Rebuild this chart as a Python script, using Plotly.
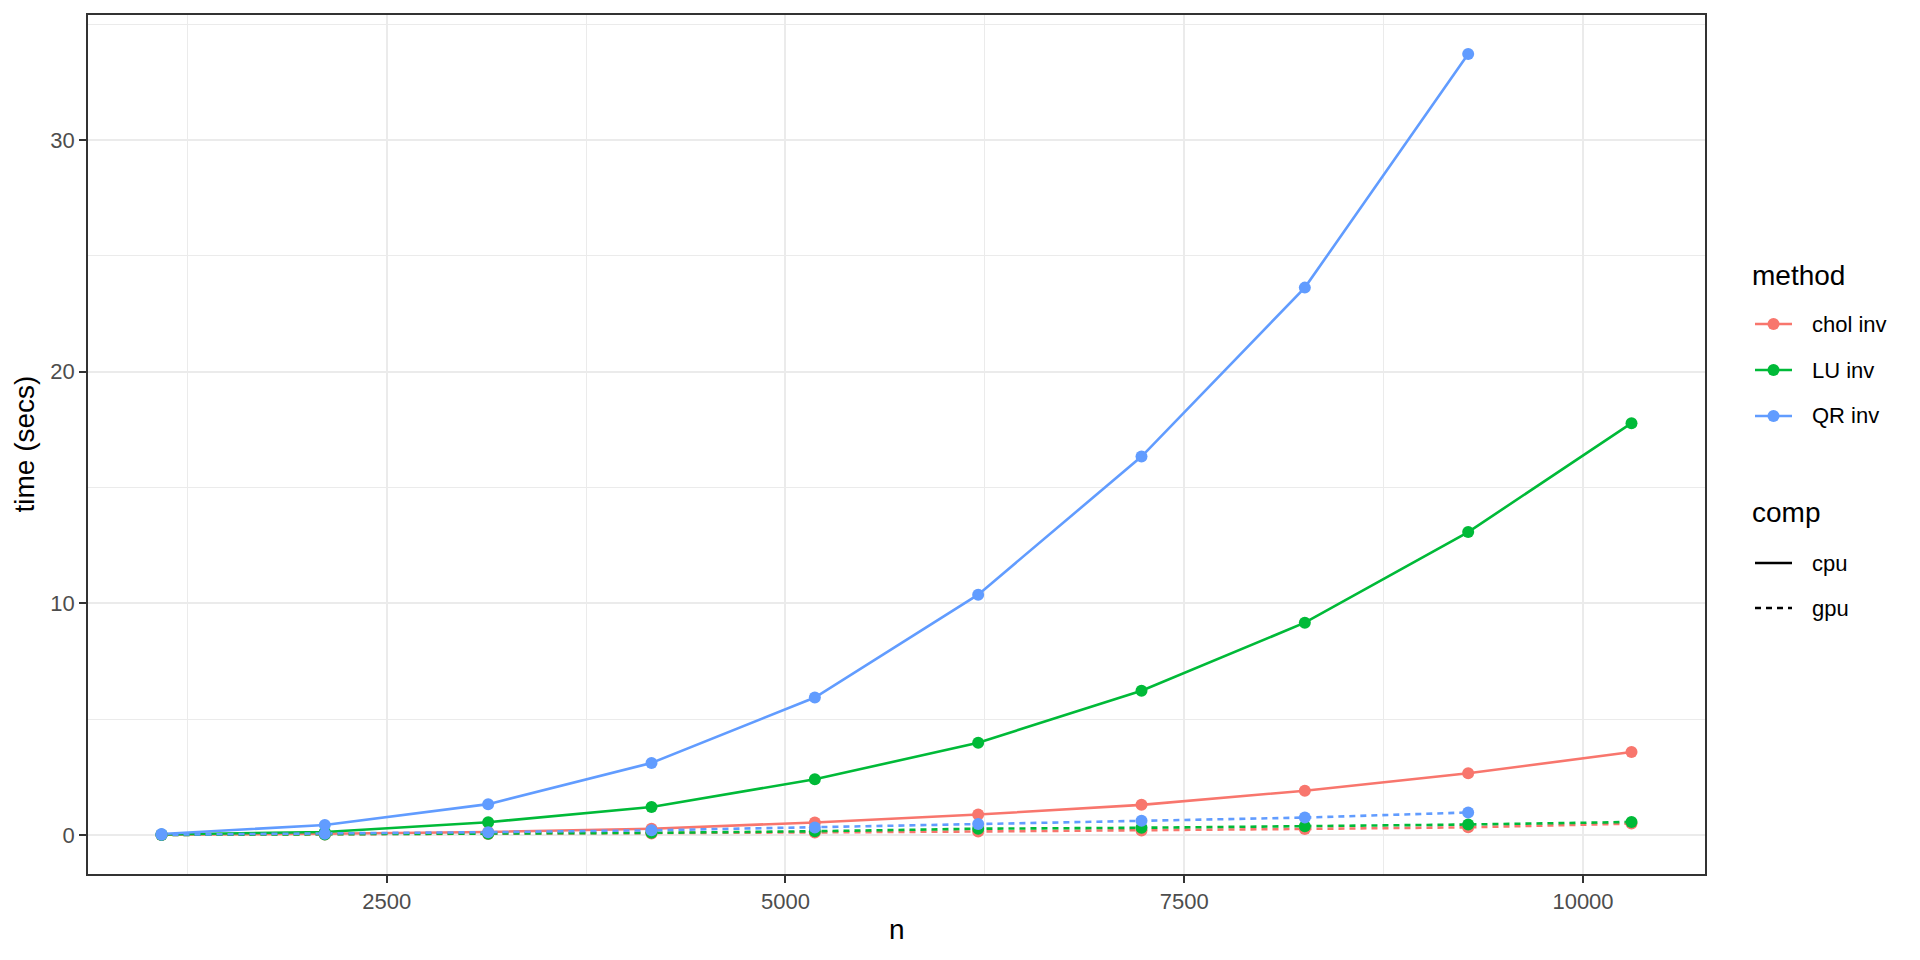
import plotly.graph_objects as go

# ---- data ----
n_vals = [1088, 2112, 3136, 4160, 5184, 6208, 7232, 8256, 9280, 10304]
chol_cpu = [0.02, 0.06, 0.14, 0.28, 0.55, 0.89, 1.31, 1.92, 2.67, 3.59]
lu_cpu = [0.03, 0.14, 0.56, 1.22, 2.41, 3.99, 6.23, 9.17, 13.08, 17.78]
qr_cpu = [0.05, 0.44, 1.34, 3.12, 5.94, 10.38, 16.34, 23.63, 33.71]
chol_gpu = [0.01, 0.03, 0.05, 0.07, 0.12, 0.16, 0.20, 0.27, 0.34, 0.50]
lu_gpu = [0.01, 0.03, 0.06, 0.10, 0.17, 0.28, 0.32, 0.39, 0.46, 0.57]
qr_gpu = [0.02, 0.06, 0.13, 0.21, 0.33, 0.48, 0.62, 0.76, 0.98]

methods = ["chol inv", "LU inv", "QR inv"]
method_colors = ["#F8766D", "#00BA38", "#619CFF"]
comps = ["cpu", "gpu"]
x_ticks = [2500, 5000, 7500, 10000]
x_minor = [1250, 3750, 6250, 8750]
y_ticks = [0, 10, 20, 30]
y_minor = [5, 15, 25, 35]

series = [
    ("chol inv", "cpu", chol_cpu),
    ("chol inv", "gpu", chol_gpu),
    ("LU inv", "cpu", lu_cpu),
    ("LU inv", "gpu", lu_gpu),
    ("QR inv", "cpu", qr_cpu),
    ("QR inv", "gpu", qr_gpu),
]

# page body has an 8px default margin; build figure in page coordinates minus that
OFF = 8
W, H = 1920 - 2 * OFF, 960 - 2 * OFF
FONT = "Liberation Sans, Arial, Helvetica, sans-serif"
dash_style = {"cpu": "solid", "gpu": "6px,5px"}
LW = 2.6
MS = 12

def PX(x):
    return x - OFF

fig = go.Figure()

# lines first
for m, c, vals in series:
    col = method_colors[methods.index(m)]
    fig.add_trace(go.Scatter(
        x=n_vals[:len(vals)], y=vals, mode="lines",
        line=dict(color=col, width=LW, dash=dash_style[c]),
        showlegend=False, hoverinfo="skip"))
# then points
for m, c, vals in series:
    col = method_colors[methods.index(m)]
    fig.add_trace(go.Scatter(
        x=n_vals[:len(vals)], y=vals, mode="markers",
        marker=dict(color=col, size=MS, line=dict(width=0)),
        showlegend=False, name=f"{m} {c}"))

# axis ranges with ggplot-like 5% expansion
all_y = chol_cpu + lu_cpu + qr_cpu + chol_gpu + lu_gpu + qr_gpu
ymin, ymax = min(all_y), max(all_y)
ypad = 0.05 * (ymax - ymin)
xmin, xmax = min(n_vals), max(n_vals)
xpad = 0.05 * (xmax - xmin)

# panel edges in page pixels
px_l, px_r, px_t, px_b = PX(88), PX(1705), PX(15), PX(874)

axis_common = dict(
    showline=True, mirror=True, linecolor="#333333", linewidth=1.5,
    ticks="outside", ticklen=7, tickwidth=2, tickcolor="#333333",
    showgrid=True, gridcolor="#EBEBEB", gridwidth=2,
    zeroline=False, automargin=False,
    tickfont=dict(family=FONT, size=22, color="#4D4D4D"),
)

# ---- legend drawn on an overlay axis (pixel coordinates) ----
leg_x0 = PX(1706)
key_x0, key_x1 = PX(1755), PX(1792)
key_mid = (key_x0 + key_x1) / 2
method_key_y = [PX(324), PX(370), PX(416)]
comp_key_y = [PX(563), PX(608)]

for m, ky in zip(methods, method_key_y):
    col = method_colors[methods.index(m)]
    fig.add_trace(go.Scatter(x=[key_x0, key_x1], y=[ky, ky], mode="lines",
                             line=dict(color=col, width=LW), xaxis="x2", yaxis="y2",
                             showlegend=False, hoverinfo="skip"))
    fig.add_trace(go.Scatter(x=[key_mid], y=[ky], mode="markers",
                             marker=dict(color=col, size=MS), xaxis="x2", yaxis="y2",
                             showlegend=False, hoverinfo="skip"))
for c, ky in zip(comps, comp_key_y):
    fig.add_trace(go.Scatter(x=[key_x0, key_x1], y=[ky, ky], mode="lines",
                             line=dict(color="black", width=LW, dash=dash_style[c]),
                             xaxis="x2", yaxis="y2", showlegend=False, hoverinfo="skip"))

annotations = []
def px_ann(text, x, y, size, color="black", xanchor="left", angle=0):
    annotations.append(dict(
        text=text, x=x / W, y=1 - y / H, xref="paper", yref="paper",
        xanchor=xanchor, yanchor="middle", showarrow=False, textangle=angle,
        font=dict(family=FONT, size=size, color=color)))

px_ann("method", PX(1750), PX(275), 28)
for m, ky in zip(methods, method_key_y):
    px_ann(m, PX(1810), ky, 22)
px_ann("comp", PX(1750), PX(512), 28)
for c, ky in zip(comps, comp_key_y):
    px_ann(c, PX(1810), ky, 22)

# axis titles
px_ann("n", (px_l + px_r) / 2, PX(929), 28, xanchor="center")
px_ann("time (secs)", PX(24), (px_t + px_b) / 2, 28, xanchor="center", angle=-90)

fig.update_layout(
    width=W, height=H,
    margin=dict(l=0, r=0, t=0, b=0),
    paper_bgcolor="white", plot_bgcolor="white",
    font=dict(family=FONT),
    showlegend=False,
    xaxis=dict(domain=[px_l / W, px_r / W], range=[xmin - xpad, xmax + xpad],
               tickvals=x_ticks, ticktext=[str(v) for v in x_ticks],
               minor=dict(tickvals=x_minor, showgrid=True, gridcolor="#EBEBEB",
                          gridwidth=1, ticks=""),
               **axis_common),
    yaxis=dict(domain=[1 - px_b / H, 1 - px_t / H], range=[ymin - ypad, ymax + ypad],
               tickvals=y_ticks, ticktext=[str(v) for v in y_ticks],
               minor=dict(tickvals=y_minor, showgrid=True, gridcolor="#EBEBEB",
                          gridwidth=1, ticks=""),
               **axis_common),
    xaxis2=dict(domain=[leg_x0 / W, 1], range=[leg_x0, W], visible=False,
                anchor="y2", fixedrange=True),
    yaxis2=dict(domain=[0, 1], range=[H, 0], visible=False,
                anchor="x2", fixedrange=True),
    annotations=annotations,
)

fig.write_html("out.html")
